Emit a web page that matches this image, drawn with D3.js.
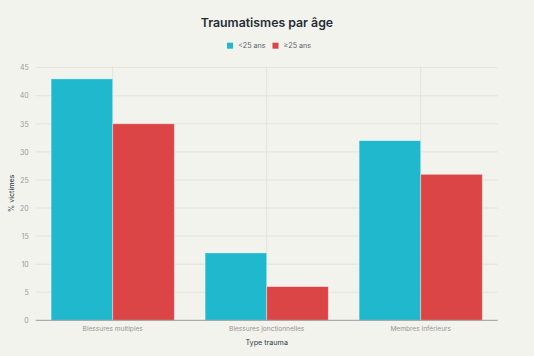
<!DOCTYPE html>
<html><head><meta charset="utf-8">
<script src="https://cdn.jsdelivr.net/npm/d3@7"></script>
<style>
html,body{margin:0;padding:0;background:#F3F3EE;}
svg{display:block;font-family:Inter,"Noto Sans",sans-serif;}
</style></head>
<body><svg id="c" width="534" height="356"></svg>
<script>
const categories = ["Blessures multiples","Blessures jonctionnelles","Membres inférieurs"];
const seriesNames = ["<25 ans","≥25 ans"];
const under25 = [43, 12, 32];
const over25 = [35, 6, 26];
const yTicks = [0,5,10,15,20,25,30,35,40,45];
const colors = ["#1FB8CD","#DB4545"];

const svg = d3.select("#c");
const W = 534, H = 356;
const m = {l:35.7, r:534-497.7, t:66.2, b:356-320.3};
const x = d3.scaleBand().domain(categories).range([m.l, W-m.r]).paddingInner(0.2).paddingOuter(0.1);
const xc = d3.scaleBand().domain(categories).range([m.l, W-m.r]).padding(0);
const xs = d3.scaleBand().domain(seriesNames).range([0, x.bandwidth()]);
const y = d3.scaleLinear().domain([0, 45.26]).range([H-m.b, m.t]);

svg.append("rect").attr("width",W).attr("height",H).attr("fill","#F3F3EE");

svg.append("g").selectAll("line").data(yTicks.filter(d=>d>0)).join("line")
  .attr("x1",m.l).attr("x2",W-m.r)
  .attr("y1",d=>y(d)).attr("y2",d=>y(d))
  .attr("stroke","#E3E3DD").attr("stroke-width",1);
svg.append("g").selectAll("line").data(categories).join("line")
  .attr("x1",d=>xc(d)+xc.bandwidth()/2).attr("x2",d=>xc(d)+xc.bandwidth()/2)
  .attr("y1",m.t).attr("y2",H-m.b)
  .attr("stroke","#E3E3DD").attr("stroke-width",1);

const series = [under25, over25];
series.forEach((vals,si)=>{
  svg.append("g").selectAll("rect").data(categories).join("rect")
    .attr("x",(d)=>x(d)+xs(seriesNames[si]))
    .attr("width",xs.bandwidth())
    .attr("y",(d,i)=>y(vals[i]))
    .attr("height",(d,i)=>y(0)-y(vals[i]))
    .attr("fill",colors[si])
    .attr("stroke","rgba(255,255,255,0.45)").attr("stroke-width",0.8);
});

svg.append("line").attr("x1",m.l).attr("x2",W-m.r).attr("y1",y(0)).attr("y2",y(0))
  .attr("stroke","#9A9A9A").attr("stroke-width",1);

const ya = d3.axisLeft(y).tickValues(yTicks).tickSize(0).tickPadding(6);
const gy = svg.append("g").attr("transform",`translate(${m.l-1},0)`).call(ya);
gy.select(".domain").remove();
gy.selectAll("text").attr("fill","#9A9A9A").attr("font-size","7px").attr("font-family","Inter,sans-serif");

const xa = d3.axisBottom(xc).tickSize(0).tickPadding(6);
const gx = svg.append("g").attr("transform",`translate(0,${y(0)})`).call(xa);
gx.select(".domain").remove();
gx.selectAll("text").attr("fill","#939393").attr("font-size","6.6px").attr("font-family","Inter,sans-serif");

svg.append("text").attr("x",(m.l+W-m.r)/2).attr("y",344.5).attr("text-anchor","middle")
  .attr("font-size","7.2px").attr("fill","#2B3A44").text("Type trauma");
svg.append("text").attr("transform",`translate(14,${(m.t+H-m.b)/2}) rotate(-90)`).attr("text-anchor","middle")
  .attr("font-size","7.2px").attr("fill","#2B3A44").text("% victimes");

svg.append("text").attr("x",267).attr("y",26.5).attr("text-anchor","middle")
  .attr("font-size","12.3px").attr("font-weight","600").attr("fill","#1F2D36").text("Traumatismes par âge");

const lg = svg.append("g");
const legendX = [227, 272.5];
seriesNames.forEach((n,i)=>{
  lg.append("rect").attr("x",legendX[i]).attr("y",42.7).attr("width",6).attr("height",6).attr("fill",colors[i]);
  lg.append("text").attr("x",legendX[i]+11).attr("y",48.4).attr("font-size","7.2px").attr("fill","#5A6268").text(n);
});
</script></body></html>
